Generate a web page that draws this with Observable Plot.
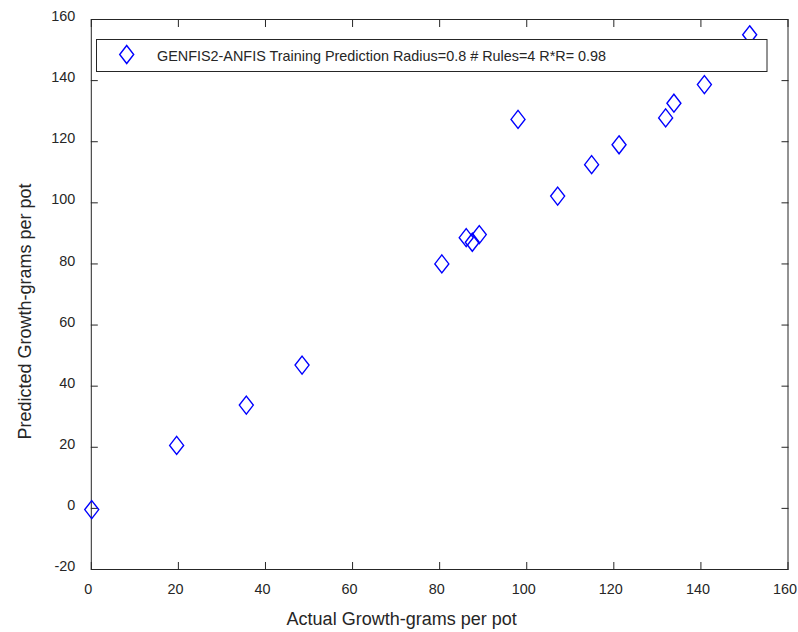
<!DOCTYPE html>
<html>
<head>
<meta charset="utf-8">
<script src="https://cdn.jsdelivr.net/npm/d3@7"></script>
<script src="https://cdn.jsdelivr.net/npm/@observablehq/plot@0.6"></script>
<style>
  html, body { margin: 0; padding: 0; background: #fff; }
  #chart { position: relative; width: 798px; height: 632px; }
  svg { font-family: "Liberation Sans", Arial, Helvetica, sans-serif; }
</style>
</head>
<body>
<div id="chart"></div>
<script>
// Data
const actual    = [0.1, 19.6, 35.6, 48.4, 80.5, 86.1, 87.5, 89.1, 98.0, 107.1, 114.9, 121.2, 131.9, 133.8, 140.8, 151.2];
const predicted = [-0.4, 20.6, 33.8, 46.9, 80.0, 88.6, 87.1, 89.6, 127.3, 102.2, 112.5, 119.0, 127.8, 132.6, 138.7, 155.0];
const xTicks = [0, 20, 40, 60, 80, 100, 120, 140, 160];
const yTicks = [-20, 0, 20, 40, 60, 80, 100, 120, 140, 160];
const xLabel = "Actual Growth-grams per pot";
const yLabel = "Predicted Growth-grams per pot";
const legendLabel = "GENFIS2-ANFIS Training Prediction Radius=0.8 # Rules=4 R*R= 0.98";

const data = actual.map((a, i) => ({actual: a, predicted: predicted[i]}));

// MATLAB-like diamond marker (taller than wide)
const diamond = {
  draw(context, size) {
    const w = 7, h = 9;
    context.moveTo(0, -h);
    context.lineTo(w, 0);
    context.lineTo(0, h);
    context.lineTo(-w, 0);
    context.closePath();
  }
};

const ink = "#262626";
const blue = "#0000ff";

const chart = Plot.plot({
  width: 798,
  height: 632,
  marginLeft: 90.8,
  marginRight: 10.5,
  marginTop: 19,
  marginBottom: 63,
  style: {fontFamily: '"Liberation Sans", Arial, Helvetica, sans-serif', background: "#fff", color: ink},
  x: {domain: [0, 160]},
  y: {domain: [-20, 160]},
  marks: [
    // inward tick marks on all four sides
    Plot.axisX(xTicks, {anchor: "bottom", tickSize: -7, tickFormat: () => "", label: null, stroke: ink}),
    Plot.axisX(xTicks, {anchor: "top", tickSize: -7, tickFormat: () => "", label: null, stroke: ink}),
    Plot.axisY(yTicks, {anchor: "left", tickSize: -7, tickFormat: () => "", label: null, stroke: ink}),
    Plot.axisY(yTicks, {anchor: "right", tickSize: -7, tickFormat: () => "", label: null, stroke: ink}),
    // tick labels
    Plot.axisX(xTicks, {anchor: "bottom", tickSize: 0, tickPadding: 14, label: null, fontSize: 14.4, dx: -3, fill: ink, tickFormat: d => String(d)}),
    Plot.axisY(yTicks, {anchor: "left", tickSize: 0, tickPadding: 16, label: null, fontSize: 14.4, dy: -3, fill: ink, tickFormat: d => String(d)}),
    Plot.frame({stroke: ink, strokeWidth: 1}),
    Plot.dot(data, {x: "actual", y: "predicted", symbol: diamond, r: 5, stroke: blue, strokeWidth: 1.4, fill: "none"}),
    // axis titles
    Plot.text([xLabel], {frameAnchor: "bottom", text: d => d, textAnchor: "middle", lineAnchor: "middle", dy: 49.5, dx: -38, fontSize: 18, fill: ink}),
    Plot.text([yLabel], {frameAnchor: "left", text: d => d, textAnchor: "middle", lineAnchor: "middle", rotate: -90, dx: -66, dy: 17, fontSize: 18, fill: ink})
  ]
});

document.getElementById("chart").appendChild(chart);

// Legend box inside the axes (drawn on top, white fill)
const svg = d3.select(chart);
const lg = svg.append("g").attr("class", "legend");
lg.append("rect")
  .attr("x", 96.5).attr("y", 39.5).attr("width", 670.5).attr("height", 32)
  .attr("fill", "#fff").attr("stroke", ink).attr("stroke-width", 1);
lg.append("path")
  .attr("transform", "translate(126.7,54.5)")
  .attr("d", d3.symbol().type(diamond)())
  .attr("fill", "none").attr("stroke", blue).attr("stroke-width", 1.4);
lg.append("text")
  .attr("x", 157).attr("y", 55.5)
  .attr("dy", "0.35em")
  .attr("text-anchor", "start")
  .attr("font-size", 14.4)
  .attr("fill", ink)
  .text(legendLabel);
</script>
</body>
</html>
